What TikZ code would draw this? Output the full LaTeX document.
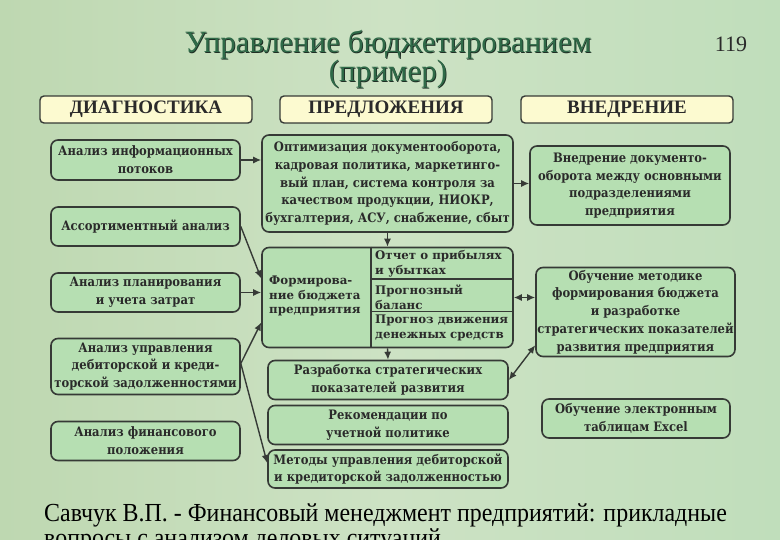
\documentclass[tikz,border=0pt]{standalone}
\usepackage{fontspec}
\setmainfont{DejaVu Serif}
\newfontfamily\boxfont{DejaVu Serif}[FakeStretch=0.89]
\newfontfamily\timesfont{Liberation Serif}
\newfontfamily\sourcefont{Liberation Serif}[FakeStretch=0.92]
\usetikzlibrary{
	arrows.meta,
	positioning,
	calc
}
\definecolor{bgleft}{HTML}{BED8B1}
\definecolor{bgmid}{HTML}{CDE2C4}
\definecolor{bgright}{HTML}{C0DEBB}
\definecolor{boxgreen}{HTML}{B6DFB2}
\definecolor{headfill}{HTML}{FCFAD0}
\definecolor{edge}{HTML}{363A36}
\definecolor{ink}{HTML}{2A2A2A}
\definecolor{titlegreen}{HTML}{2F6A48}
\definecolor{titleshade}{HTML}{1E2E24}

\begin{document}
\begin{tikzpicture}[x=1pt,y=-1pt,>={Latex[length=8pt,width=7pt]},
	box/.style={draw=edge,line width=1.6pt,fill=boxgreen,rounded corners=7pt,
		align=center,inner sep=1pt,text=ink,
		font=\boxfont\bfseries\fontsize{13}{17.7}\selectfont},
	head/.style={draw=edge,line width=1.4pt,fill=headfill,rounded corners=4pt,
		minimum width=212pt,minimum height=27pt,inner sep=0pt,text=ink,
		font=\timesfont\bfseries\fontsize{19}{20}\selectfont},
	budtext/.style={anchor=west,align=left,inner sep=0pt,text=ink,
		font=\bfseries\fontsize{11.8}{14.8}\selectfont},
	titletext/.style={align=center,font=\timesfont\fontsize{31}{27}\selectfont},
	arr/.style={->,draw=edge,line width=1.4pt},
	twoarr/.style={<->,draw=edge,line width=1.4pt}]

	% background
	\clip (0,0) rectangle (780,540);
	\shade[left color=bgleft,right color=bgright,middle color=bgmid] (0,0) rectangle (780,540);

	% title
	\node[titletext,text=titleshade] (titleshadow) at (388.8,60.3) {Управление бюджетированием\\(пример)};
	\node[titletext,text=titlegreen] (title) at (388,59.5) {Управление бюджетированием\\(пример)};
	\node[font=\timesfont\fontsize{22}{24}\selectfont,text=ink] (pagenum) at (731,44) {119};

	% columns
	\node[head] (diag) at (146,109.5) {ДИАГНОСТИКА};
	\node[head] (prop) at (386,109.5) {ПРЕДЛОЖЕНИЯ};
	\node[head] (impl) at (627,109.5) {ВНЕДРЕНИЕ};

	% diagnostics
	\node[box,minimum width=189pt,minimum height=40pt] (infoflow) at (145.5,160) {Анализ информационных\\потоков};
	\node[box,minimum width=189pt,minimum height=39pt] (assort) at (145.5,226.5) {Ассортиментный анализ};
	\node[box,minimum width=189pt,minimum height=39pt] (costs) at (145.5,292.5) {Анализ планирования\\и учета затрат};
	\node[box,minimum width=189pt,minimum height=56pt] (debts) at (145.5,366.5) {Анализ управления\\дебиторской и креди-\\торской задолженностями};
	\node[box,minimum width=189pt,minimum height=39pt] (finpos) at (145.5,441) {Анализ финансового\\положения};

	% proposals
	\node[box,minimum width=251pt,minimum height=97pt,inner ysep=0pt] (optim) at (387.5,183.5) {Оптимизация документооборота,\\кадровая политика, маркетинго-\\вый план, система контроля за\\качеством продукции, НИОКР,\\бухгалтерия, АСУ, снабжение, сбыт};
	\node[box,minimum width=251pt,minimum height=100pt] (budget) at (387.5,297.5) {};
	\coordinate (dv) at (371,0);
	\coordinate (h1) at (371,279);
	\coordinate (h2) at (371,311.5);
	\draw[draw=edge,line width=1.4pt] (budget.north -| dv) -- (budget.south -| dv);
	\draw[draw=edge,line width=1.4pt] (h1) -- (h1 -| budget.east);
	\draw[draw=edge,line width=1.4pt] (h2) -- (h2 -| budget.east);
	\node[budtext] (budname) at (269,296) {Формирова-\\ние бюджета\\предприятия};
	\node[budtext] (pnl) at (375,264) {Отчет о прибылях\\и убытках};
	\node[budtext] (balance) at (375,297) {Прогнозный\\баланс};
	\node[budtext] (cashflow) at (375,328) {Прогноз движения\\денежных средств};
	\node[box,minimum width=240pt,minimum height=39pt] (strat) at (388,380) {Разработка стратегических\\показателей развития};
	\node[box,minimum width=240pt,minimum height=39pt] (policy) at (388,425) {Рекомендации по\\учетной политике};
	\node[box,minimum width=240pt,minimum height=38pt,inner sep=0pt] (debtmeth) at (388,469) {Методы управления дебиторской\\и кредиторской задолженностью};

	% implementation
	\node[box,minimum width=200pt,minimum height=79pt] (docflow) at (630,185.5) {Внедрение документо-\\оборота между основными\\подразделениями\\предприятия};
	\node[box,minimum width=199pt,minimum height=89pt,inner ysep=0pt] (training) at (635.5,312) {Обучение методике\\формирования бюджета\\и разработке\\стратегических показателей\\развития предприятия};
	\node[box,minimum width=188pt,minimum height=39pt] (excel) at (636,418.5) {Обучение электронным\\таблицам Excel};

	% connectors
	\draw[arr] (infoflow.east) -- (infoflow.east -| optim.west);
	\draw[arr] (assort.east) -- ([yshift=19pt]budget.west);
	\draw[arr] (costs.east) -- (costs.east -| budget.west);
	\draw[arr] ([yshift=3pt]debts.east) -- ([yshift=-25pt]budget.west);
	\draw[arr] ([yshift=3pt]debts.east) -- ([yshift=6pt]debtmeth.west);
	\draw[arr] (optim.south) -- (budget.north);
	\draw[arr] (budget.south) -- (strat.north);
	\draw[arr] (optim.east) -- (optim.east -| docflow.west);
	\draw[twoarr] (budget.east) -- (budget.east -| training.west);
	\draw[twoarr] ([yshift=12pt]training.south west) -- (strat.east);

	% reference
	\node[anchor=base west,align=left,inner sep=0pt,text=black,font=\sourcefont\fontsize{26}{21}\selectfont] (source) at (44,546) {Савчук В.П. - Финансовый менеджмент предприятий: прикладные\\вопросы с анализом деловых ситуаций};
\end{tikzpicture}
\end{document}
